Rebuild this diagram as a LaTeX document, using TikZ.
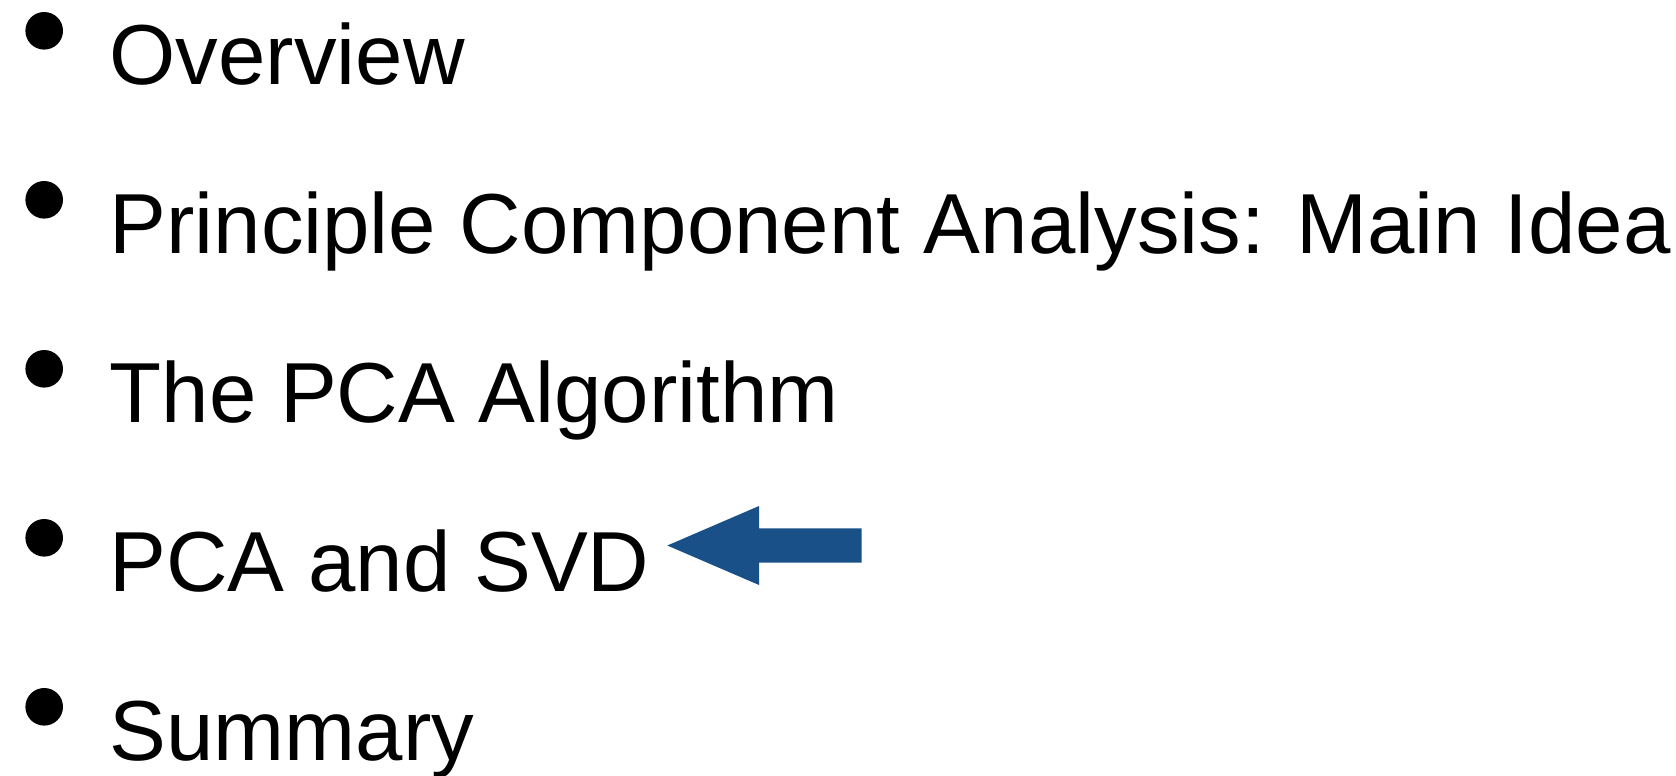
\documentclass[tikz,border=0pt]{standalone}
\usepackage{fontspec}
\setmainfont{Liberation Sans}
\definecolor{arrowblue}{HTML}{1A5088}
\begin{document}
\begin{tikzpicture}[x=0.5pt,y=-0.5pt,
  item/.style={anchor=base west,inner sep=0pt,outer sep=0pt,font=\fontsize{42.6}{50}\selectfont},
  dot/.style={circle,fill=black,inner sep=0pt,minimum size=18.8pt}]
\useasboundingbox (0,0) rectangle (1676,776);
\foreach \t/\y/\n in {Overview/84/a,
  {Principle Component Analysis: Main Idea}/253/b,
  {The PCA Algorithm}/422/c,
  {PCA and SVD}/591/d,
  Summary/760/e}{
  \node[dot] (dot\n) at (44.2,\y-53.2) {};
  \node[item] (txt\n) at (109.6,\y) {\t};
}
\fill[arrowblue] (667.3,545.5) -- (759,506) -- (759,528.3) -- (861.7,528.3)
  -- (861.7,562.7) -- (759,562.7) -- (759,585) -- cycle;
\end{tikzpicture}
\end{document}
